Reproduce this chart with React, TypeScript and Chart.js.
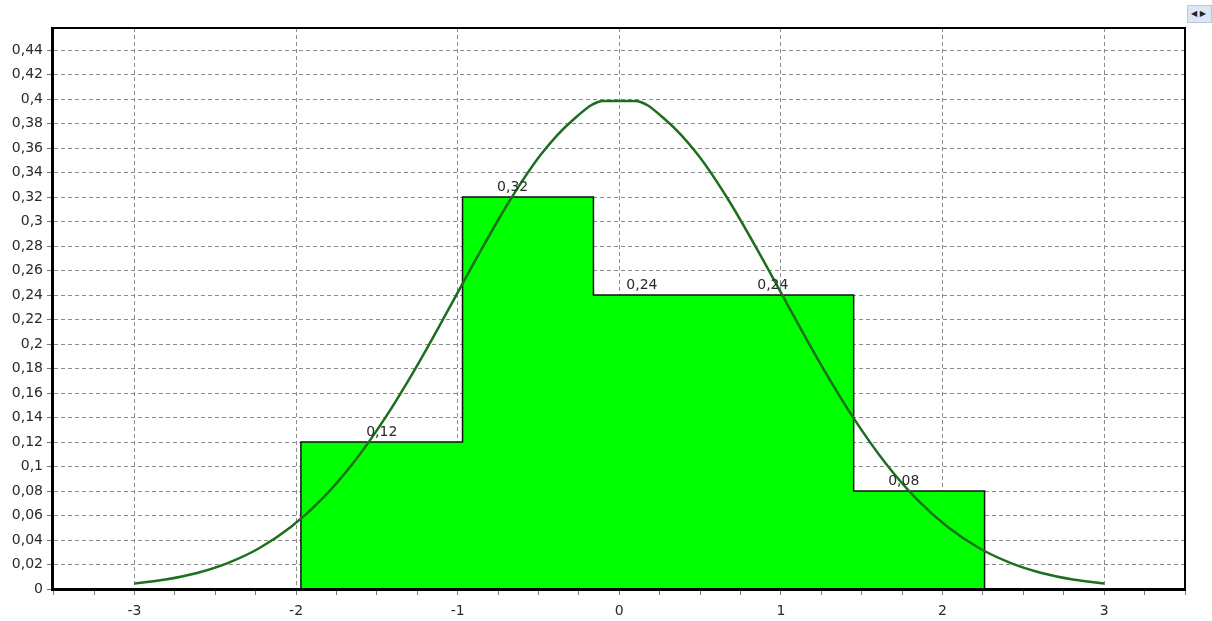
import React, { useEffect, useRef } from "react";
import { Chart, registerables } from "chart.js";

Chart.register(...registerables);

// Histogram (relative frequencies)
const binEdges = [-1.97, -0.97, -0.16, 0.645, 1.45, 2.26];
const binHeights = [0.12, 0.32, 0.24, 0.24, 0.08];
const labelX = [-1.47, -0.66, 0.14, 0.95, 1.76];

// Density curve
const curveX = [
  -3, -2.8065, -2.6129, -2.4194, -2.2258, -2.0323, -1.8387, -1.6452, -1.4516, -1.2581, -1.0645,
  -0.871, -0.6774, -0.4839, -0.2903, -0.0968, 0.0968, 0.2903, 0.4839, 0.6774, 0.871, 1.0645,
  1.2581, 1.4516, 1.6452, 1.8387, 2.0323, 2.2258, 2.4194, 2.6129, 2.8065, 3,
];
const curveY = [
  0.0044, 0.0078, 0.0131, 0.0214, 0.0335, 0.0506, 0.0736, 0.1031, 0.1391, 0.1808, 0.2264,
  0.273, 0.3172, 0.3549, 0.3825, 0.3985, 0.3985, 0.3825, 0.3549, 0.3172, 0.273, 0.2264,
  0.1808, 0.1391, 0.1031, 0.0736, 0.0506, 0.0335, 0.0214, 0.0131, 0.0078, 0.0044,
];

const yTickValues = [
  0, 0.02, 0.04, 0.06, 0.08, 0.1, 0.12, 0.14, 0.16, 0.18, 0.2, 0.22, 0.24, 0.26, 0.28, 0.3,
  0.32, 0.34, 0.36, 0.38, 0.4, 0.42, 0.44,
];
const xTickLabels = [-3, -2, -1, 0, 1, 2, 3];
const xMinorTicks = [
  -3.5, -3.25, -3, -2.75, -2.5, -2.25, -2, -1.75, -1.5, -1.25, -1, -0.75, -0.5, -0.25, 0,
  0.25, 0.5, 0.75, 1, 1.25, 1.5, 1.75, 2, 2.25, 2.5, 2.75, 3, 3.25, 3.5,
];

const fmt = (v: number) => String(Number(v.toFixed(2))).replace(".", ",");
const FONT = "'DejaVu Sans', sans-serif";

export default function App() {
  const ref = useRef<HTMLCanvasElement | null>(null);

  useEffect(() => {
    document.body.style.margin = "0";
    const canvas = ref.current!;
    const histPts: { x: number; y: number }[] = [{ x: binEdges[0], y: 0 }];
    binHeights.forEach((h, i) => {
      histPts.push({ x: binEdges[i], y: h });
      histPts.push({ x: binEdges[i + 1], y: h });
    });
    histPts.push({ x: binEdges[binEdges.length - 1], y: 0 });

    const curvePts = curveX.map((x, i) => ({ x, y: curveY[i] }));

    const framePlugin = {
      id: "frameAndLabels",
      afterDatasetsDraw(chart: any) {
        const { ctx, chartArea, scales } = chart;
        ctx.save();
        ctx.font = `14px ${FONT}`;
        ctx.fillStyle = "#2a2a2a";
        ctx.textAlign = "center";
        ctx.textBaseline = "alphabetic";
        binHeights.forEach((h, i) => {
          const px = scales.x.getPixelForValue(labelX[i]);
          const py = scales.y.getPixelForValue(h);
          ctx.fillText(fmt(h), px, py - 6);
        });
        ctx.strokeStyle = "#000";
        ctx.lineWidth = 2;
        ctx.beginPath();
        ctx.moveTo(chartArea.left, chartArea.top);
        ctx.lineTo(chartArea.right, chartArea.top);
        ctx.lineTo(chartArea.right, chartArea.bottom);
        ctx.stroke();
        ctx.restore();
      },
    };

    const chart = new Chart(canvas, {
      type: "line",
      data: {
        datasets: [
          {
            data: curvePts,
            borderColor: "#1d6e1d",
            borderWidth: 2.5,
            pointRadius: 0,
            fill: false,
            cubicInterpolationMode: "monotone",
            order: 0,
          },
          {
            data: histPts,
            borderColor: "#111",
            borderWidth: 1.5,
            backgroundColor: "#00ff00",
            pointRadius: 0,
            fill: "origin",
            tension: 0,
            order: 1,
          },
        ],
      },
      options: {
        animation: false,
        responsive: false,
        parsing: false as any,
        layout: { padding: { top: 28, right: 27, left: 0, bottom: 0 } },
        plugins: { legend: { display: false }, tooltip: { enabled: false } },
        scales: {
          x: {
            type: "linear",
            min: -3.51,
            max: 3.5,
            afterBuildTicks: (scale: any) => {
              scale.ticks = xMinorTicks.map((v) => ({ value: v }));
            },
            afterFit: (scale: any) => {
              scale.height = 32;
            },
            ticks: {
              autoSkip: false,
              maxRotation: 0,
              padding: 8,
              color: "#2a2a2a",
              font: { family: FONT, size: 14 },
              callback: (v: any) => (xTickLabels.includes(Number(v)) ? String(v) : ""),
            },
            grid: {
              color: (c: any) =>
                c.tick && xTickLabels.includes(Number(c.tick.value)) ? "#8c8c8c" : "transparent",
              lineWidth: 1,
              tickColor: "#777",
              tickLength: 6,
              tickWidth: 1,
            },
            border: { display: true, color: "#000", width: 3, dash: [4, 3], z: 1 },
          },
          y: {
            type: "linear",
            min: 0,
            max: 0.458,
            afterBuildTicks: (scale: any) => {
              scale.ticks = yTickValues.map((v) => ({ value: v }));
            },
            afterFit: (scale: any) => {
              scale.width = 52;
            },
            ticks: {
              autoSkip: false,
              padding: 4,
              color: "#2a2a2a",
              font: { family: FONT, size: 14 },
              callback: (v: any) => fmt(Number(v)),
            },
            grid: {
              color: (c: any) => (c.tick && c.tick.value === 0 ? "transparent" : "#8c8c8c"),
              lineWidth: 1,
              tickColor: "#777",
              tickLength: 5,
              tickWidth: 1,
            },
            border: { display: true, color: "#000", width: 3, dash: [4, 3], z: 1 },
          },
        },
      },
      plugins: [framePlugin],
    });
    return () => chart.destroy();
  }, []);

  return (
    <div style={{ position: "relative", width: 1212, height: 621, background: "#fff" }}>
      <canvas ref={ref} width={1212} height={621} style={{ display: "block" }} />
      <div
        style={{
          position: "absolute",
          left: 1187,
          top: 5,
          width: 25,
          height: 18,
          background: "#dce7f5",
          border: "1px solid #b7c9e2",
          boxSizing: "border-box",
          fontSize: 8,
          lineHeight: "16px",
          color: "#222",
          fontFamily: FONT,
          paddingLeft: 3,
          whiteSpace: "nowrap",
          overflow: "hidden",
        }}
      >
        ◀ ▶
      </div>
    </div>
  );
}
